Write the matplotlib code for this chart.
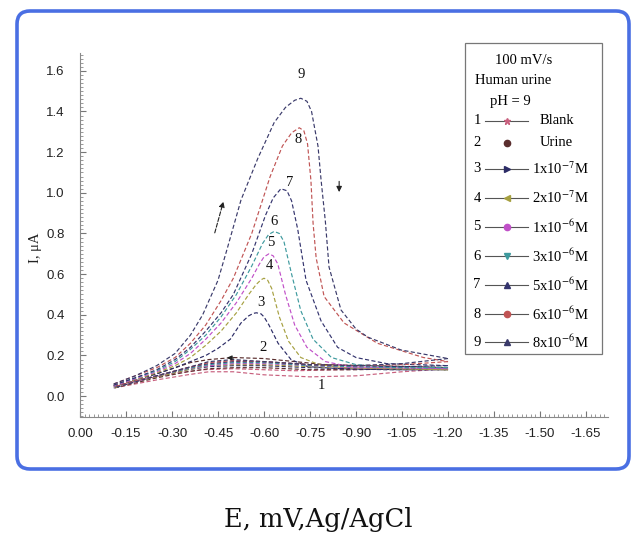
import matplotlib
matplotlib.use("Agg")
import matplotlib.pyplot as plt
from matplotlib.lines import Line2D
from matplotlib.patches import FancyBboxPatch, Rectangle
from matplotlib.ticker import FixedLocator, MultipleLocator, FormatStrFormatter

plt.rcParams.update(
    {
        "axes.unicode_minus": False,
        "mathtext.fontset": "stix",
        "font.family": ["Liberation Sans", "DejaVu Sans"],
    }
)

W, H = 636, 540
SERIF = ["Liberation Serif", "DejaVu Serif"]

# cyclic voltammograms, forward (cathodic) scans
C1_FWD_E = [-0.11, -0.20, -0.30, -0.40, -0.50, -0.60, -0.70, -0.85, -1.00, -1.20]
C1_FWD_I = [0.05, 0.08, 0.11, 0.13, 0.135, 0.13, 0.125, 0.13, 0.135, 0.135]
C2_FWD_E = [-0.11, -0.18, -0.25, -0.31, -0.36, -0.42, -0.50, -0.60, -0.70, -0.80, -0.95, -1.10, -1.20]
C2_FWD_I = [0.05, 0.08, 0.11, 0.14, 0.165, 0.18, 0.19, 0.185, 0.17, 0.155, 0.15, 0.145, 0.14]
C3_FWD_E = [-0.11, -0.18, -0.25, -0.31, -0.36, -0.41, -0.45, -0.49, -0.525, -0.55, -0.565, -0.575,
            -0.59, -0.60, -0.616, -0.646, -0.688, -0.743, -0.85, -1.00, -1.20]
C3_FWD_I = [0.05, 0.08, 0.11, 0.14, 0.17, 0.20, 0.235, 0.28, 0.36, 0.395, 0.407, 0.41,
            0.405, 0.39, 0.35, 0.26, 0.18, 0.145, 0.135, 0.13, 0.13]
C4_FWD_E = [-0.11, -0.18, -0.25, -0.31, -0.36, -0.41, -0.46, -0.51, -0.55, -0.575, -0.59, -0.60,
            -0.612, -0.625, -0.65, -0.68, -0.72, -0.78, -0.86, -1.00, -1.20]
C4_FWD_I = [0.05, 0.08, 0.115, 0.15, 0.19, 0.25, 0.32, 0.41, 0.50, 0.55, 0.572, 0.58,
            0.57, 0.53, 0.39, 0.27, 0.19, 0.155, 0.14, 0.135, 0.13]
C5_FWD_E = [-0.11, -0.18, -0.25, -0.31, -0.36, -0.41, -0.46, -0.51, -0.56, -0.585, -0.60, -0.616,
            -0.63, -0.645, -0.67, -0.70, -0.74, -0.80, -0.88, -1.00, -1.20]
C5_FWD_I = [0.05, 0.085, 0.12, 0.16, 0.21, 0.28, 0.36, 0.46, 0.58, 0.65, 0.685, 0.70,
            0.69, 0.65, 0.50, 0.35, 0.24, 0.17, 0.145, 0.14, 0.135]
C6_FWD_E = [-0.11, -0.18, -0.25, -0.31, -0.36, -0.41, -0.46, -0.51, -0.56, -0.595, -0.615, -0.633,
            -0.65, -0.665, -0.69, -0.72, -0.76, -0.82, -0.90, -1.00, -1.20]
C6_FWD_I = [0.055, 0.09, 0.125, 0.17, 0.23, 0.30, 0.39, 0.50, 0.64, 0.75, 0.795, 0.81,
            0.80, 0.76, 0.60, 0.42, 0.28, 0.19, 0.155, 0.145, 0.14]
C7_FWD_E = [-0.11, -0.18, -0.25, -0.31, -0.36, -0.41, -0.46, -0.50, -0.56, -0.605, -0.63, -0.655,
            -0.675, -0.69, -0.71, -0.737, -0.786, -0.84, -0.90, -1.00, -1.20]
C7_FWD_I = [0.055, 0.09, 0.13, 0.18, 0.24, 0.32, 0.41, 0.50, 0.70, 0.89, 0.975, 1.02,
            1.01, 0.96, 0.82, 0.57, 0.37, 0.24, 0.19, 0.16, 0.15]
C8_FWD_E = [-0.11, -0.18, -0.25, -0.31, -0.36, -0.41, -0.46, -0.50, -0.56, -0.62, -0.66, -0.69,
            -0.715, -0.73, -0.742, -0.753, -0.76, -0.77, -0.796, -0.861, -0.97, -1.12, -1.20]
C8_FWD_I = [0.06, 0.10, 0.14, 0.19, 0.26, 0.35, 0.47, 0.58, 0.80, 1.08, 1.23, 1.295,
            1.32, 1.305, 1.24, 1.06, 0.85, 0.68, 0.49, 0.36, 0.26, 0.19, 0.17]
C9_FWD_E = [-0.11, -0.18, -0.25, -0.31, -0.36, -0.40, -0.45, -0.479, -0.525, -0.58, -0.633, -0.67,
            -0.70, -0.72, -0.74, -0.755, -0.776, -0.786, -0.80, -0.812, -0.851, -0.90, -0.939,
            -1.047, -1.20]
C9_FWD_I = [0.06, 0.10, 0.15, 0.21, 0.30, 0.40, 0.57, 0.72, 0.965, 1.17, 1.345, 1.42,
            1.455, 1.465, 1.45, 1.40, 1.23, 1.064, 0.86, 0.635, 0.424, 0.33, 0.29,
            0.227, 0.185]

# reverse (anodic) scans share one potential grid
REV_E = [-1.20, -1.05, -0.90, -0.75, -0.60, -0.50, -0.42, -0.35, -0.25, -0.18, -0.11]
C1_REV_I = [0.135, 0.12, 0.10, 0.095, 0.105, 0.12, 0.12, 0.105, 0.08, 0.06, 0.04]
C2_REV_I = [0.14, 0.135, 0.13, 0.13, 0.14, 0.14, 0.135, 0.12, 0.09, 0.065, 0.04]
C3_REV_I = [0.13, 0.13, 0.135, 0.14, 0.15, 0.15, 0.145, 0.13, 0.095, 0.07, 0.04]
C4_REV_I = [0.13, 0.135, 0.14, 0.145, 0.155, 0.155, 0.15, 0.13, 0.095, 0.07, 0.04]
C5_REV_I = [0.135, 0.14, 0.14, 0.15, 0.16, 0.16, 0.15, 0.135, 0.10, 0.07, 0.045]
C6_REV_I = [0.14, 0.14, 0.145, 0.15, 0.165, 0.165, 0.155, 0.135, 0.10, 0.075, 0.045]
C7_REV_I = [0.15, 0.145, 0.15, 0.155, 0.17, 0.17, 0.16, 0.14, 0.10, 0.075, 0.045]
C8_REV_I = [0.17, 0.155, 0.15, 0.155, 0.17, 0.175, 0.165, 0.14, 0.10, 0.075, 0.045]
C9_REV_I = [0.185, 0.16, 0.15, 0.155, 0.17, 0.18, 0.17, 0.14, 0.10, 0.07, 0.04]

CURVE_NUMBERS = ["1", "2", "3", "4", "5", "6", "7", "8", "9"]
CURVE_LABELS = ["Blank", "Urine", r"1x10$^{-7}$M", r"2x10$^{-7}$M", r"1x10$^{-6}$M",
                r"3x10$^{-6}$M", r"5x10$^{-6}$M", r"6x10$^{-6}$M", r"8x10$^{-6}$M"]
LABEL_E = [-0.786, -0.597, -0.59, -0.616, -0.623, -0.633, -0.682, -0.711, -0.72]
LABEL_I = [0.054, 0.24, 0.463, 0.645, 0.754, 0.857, 1.05, 1.26, 1.58]

X_TICKS = [0.00, -0.15, -0.30, -0.45, -0.60, -0.75, -0.90, -1.05, -1.20, -1.35, -1.50, -1.65]
Y_TICKS = [0.0, 0.2, 0.4, 0.6, 0.8, 1.0, 1.2, 1.4, 1.6]

COLORS = ["#c8607e", "#5a2e2e", "#2c2c66", "#a6a040", "#c050c8", "#3e9a9e",
          "#34346e", "#c05454", "#3a3a6a"]
MARKERS = ["*", "o", ">", "<", "o", "v", "^", "o", "^"]

forward = [(C1_FWD_E, C1_FWD_I), (C2_FWD_E, C2_FWD_I), (C3_FWD_E, C3_FWD_I),
           (C4_FWD_E, C4_FWD_I), (C5_FWD_E, C5_FWD_I), (C6_FWD_E, C6_FWD_I),
           (C7_FWD_E, C7_FWD_I), (C8_FWD_E, C8_FWD_I), (C9_FWD_E, C9_FWD_I)]
reverse = [C1_REV_I, C2_REV_I, C3_REV_I, C4_REV_I, C5_REV_I, C6_REV_I,
           C7_REV_I, C8_REV_I, C9_REV_I]


def fx(x):
    return x / W


def fy(y):
    return 1 - y / H


fig = plt.figure(figsize=(W / 100, H / 100), dpi=100)

# rounded blue frame around the plot
frame = FancyBboxPatch((0.17, 0.71), 6.12, 4.58, boxstyle="round,pad=0,rounding_size=0.13",
                       transform=fig.dpi_scale_trans, facecolor="none",
                       edgecolor="#4a6fe3", linewidth=2.6)
fig.patches.append(frame)

ax = fig.add_axes([fx(80), fy(416.5), fx(607.5) - fx(80), fy(52.5) - fy(416.5)])
ax.set_facecolor("none")

dash = (0, (3.5, 2))
for (e, i), rev, color in zip(forward, reverse, COLORS):
    ax.plot(e, i, color=color, linewidth=0.85, linestyle=dash)
    ax.plot(REV_E, rev, color=color, linewidth=0.85, linestyle=dash)

for num, e, i in zip(CURVE_NUMBERS, LABEL_E, LABEL_I):
    ax.text(e, i, num, ha="center", va="center", fontsize=10.5, family=SERIF, color="#111111")

# scan direction arrows
ax.annotate("", xy=(-0.47, 0.97), xytext=(-0.437, 0.79),
            arrowprops=dict(arrowstyle="-|>", color="#222222", lw=0.8, linestyle="--",
                            mutation_scale=8))
ax.annotate("", xy=(-0.845, 0.99), xytext=(-0.845, 1.07),
            arrowprops=dict(arrowstyle="-|>", color="#222222", lw=0.8, mutation_scale=8))
ax.annotate("", xy=(-0.47, 0.19), xytext=(-0.51, 0.187),
            arrowprops=dict(arrowstyle="-|>", color="#222222", lw=0.8, mutation_scale=7))

ax.set_xlim(0.0, -1.72)
ax.set_ylim(-0.1, 1.69)
ax.xaxis.set_major_locator(FixedLocator(X_TICKS))
ax.xaxis.set_minor_locator(MultipleLocator(0.015))
ax.yaxis.set_major_locator(FixedLocator(Y_TICKS))
ax.yaxis.set_minor_locator(MultipleLocator(0.02))
ax.xaxis.set_major_formatter(FormatStrFormatter("%.2f"))
ax.yaxis.set_major_formatter(FormatStrFormatter("%.1f"))
for side in ("top", "right"):
    ax.spines[side].set_visible(False)
for side in ("left", "bottom"):
    ax.spines[side].set_color("#8a8a8a")
    ax.spines[side].set_linewidth(0.8)
ax.tick_params(which="major", direction="in", length=4, width=0.8, color="#777777",
               labelsize=9.5, labelcolor="#222222")
ax.tick_params(which="minor", direction="in", length=2, width=0.6, color="#888888")
ax.tick_params(axis="x", which="major", pad=8)
ax.tick_params(axis="y", which="major", pad=11)

fig.text(fx(35), fy(248), "I, \u03bcA", rotation=90, ha="center", va="center",
         fontsize=10.5, family=SERIF, color="#222222")
fig.text(fx(318), fy(520), "E, mV,Ag/AgCl", ha="center", va="center",
         fontsize=18.5, family=["DejaVu Serif"], color="#111111")

# legend panel
fig.patches.append(Rectangle((fx(465), fy(354)), fx(602) - fx(465), fy(43) - fy(354),
                             transform=fig.transFigure, facecolor="white",
                             edgecolor="#777777", linewidth=0.9))
LEG_FS = 10.5
fig.text(fx(524), fy(60), "100 mV/s", ha="center", va="center", fontsize=LEG_FS, family=SERIF)
fig.text(fx(513), fy(80), "Human urine", ha="center", va="center", fontsize=LEG_FS, family=SERIF)
fig.text(fx(510), fy(102), "pH = 9", ha="center", va="center", fontsize=LEG_FS, family=SERIF)

ENTRY_Y = [121, 143, 169, 198, 227, 256, 285, 314, 342]
for k, (num, label, color, marker) in enumerate(zip(CURVE_NUMBERS, CURVE_LABELS, COLORS, MARKERS)):
    y = fy(ENTRY_Y[k])
    fig.text(fx(477), y, num, ha="center", va="center", fontsize=LEG_FS, family=SERIF)
    if k != 1:
        fig.add_artist(Line2D([fx(485), fx(528)], [y, y], color="#555555", linewidth=0.8))
    fig.add_artist(Line2D([fx(507)], [y], marker=marker, markersize=4.5, color=color,
                          markeredgecolor=color, linestyle="none"))
    lx = 540 if k < 2 else 532
    fig.text(fx(lx), y, label, ha="left", va="center", fontsize=LEG_FS, family=SERIF)

fig.savefig("out.png", dpi=100, facecolor="white")
